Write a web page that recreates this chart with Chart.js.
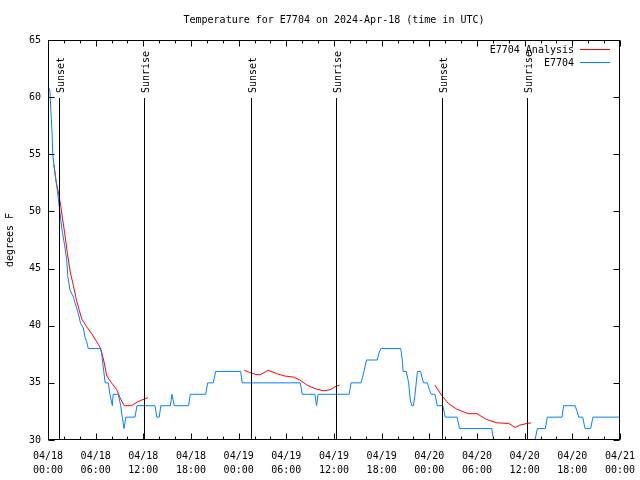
<!DOCTYPE html>
<html>
<head>
<meta charset="utf-8">
<script src="https://cdn.jsdelivr.net/npm/chart.js@4/dist/chart.umd.min.js"></script>
<style>
  body { margin: 0; background: #fff; }
  #grafico { display: block; }
</style>
</head>
<body>
<canvas id="grafico" width="640" height="480"></canvas>
<script>
// hours since 04/18 00:00 UTC, observed temperature (F)
const obsHoras = [0, 0.25, 0.35, 0.5, 0.6, 0.75, 0.95, 1.15, 1.4, 1.76, 2.1, 2.35, 2.5, 2.77, 3.2, 3.4, 3.8, 4.1, 4.45, 4.66, 4.87, 5.07,
  6.63, 6.8, 7.0, 7.2, 7.6, 7.8, 8.1, 8.2, 8.85, 9.15, 9.35, 9.57, 9.8, 10.95, 11.2, 13.47, 13.7, 14.0, 14.2, 15.4, 15.6, 15.9,
  17.7, 17.9, 19.85, 20.1, 20.8, 21.1, 24.25, 24.45, 31.76, 32.0, 33.6, 33.8, 34.0, 37.9, 38.15, 39.4, 39.6, 39.77, 40.1,
  41.45, 41.65, 41.9, 44.4, 44.6, 44.7, 45.1, 45.4, 45.6, 45.8, 46.0, 46.2, 46.5, 46.9, 47.25, 47.75, 48.0, 48.25, 48.7,
  49.0, 49.7, 50.0, 51.5, 51.8, 55.85, 56.1, 56.3, 61.1, 61.3, 61.6, 62.6, 62.85, 64.7, 64.9, 66.35, 66.6, 66.8, 67.3,
  67.6, 68.3, 68.6, 72];
const obsTemps = [61, 60.5, 59, 57, 55, 54, 53, 52, 50.5, 48.4, 47, 45.8, 44.3, 43.1, 42.5, 42, 41.1, 40.2, 39.8, 39, 38.6, 38,
  38, 37.3, 36.1, 35, 35, 34, 33, 34, 34, 33, 32, 31, 32, 32, 33, 33, 32, 32, 33, 33, 34, 33,
  33, 34, 34, 35, 35, 36, 36, 35, 35, 34, 34, 33, 34, 34, 35, 35, 35.5, 36, 37,
  37, 37.6, 38, 38, 37, 36, 36, 35, 33.5, 33, 33, 34, 36, 36, 35, 35, 34.4, 34, 34,
  33, 33, 32, 32, 31, 31, 30, 29, 29, 30, 31, 31, 32, 32, 33, 33, 32.5, 32, 32,
  31, 31, 32, 32];

// analysis curve, null = gap between runs
const anaHoras = [0.75, 1.0, 1.38, 1.6, 1.8, 2.1, 2.43, 2.8, 3.2, 3.6, 4.24, 4.87, 5.5, 6.13, 6.63, 7.0, 7.4, 8.0, 8.65, 9.06,
  9.6, 10.5, 11.2, 11.8, 12.6, 18,
  24.7, 25.4, 26.05, 26.7, 27.7, 28.8, 29.8, 30.9, 31.7, 32.6, 33.6, 34.65, 35.5, 36.25, 36.7, 42,
  48.7, 49.55, 50.4, 51.45, 52.9, 54.0, 55.2, 56.5, 58.0, 58.8, 59.4, 60.3, 60.8];
const anaTemps = [54.1, 52.7, 51.4, 50.5, 49.5, 48.1, 46.4, 44.7, 43.5, 42.2, 40.6, 39.9, 39.3, 38.6, 38, 37, 35.6, 35, 34.4, 33.7,
  33, 33, 33.3, 33.5, 33.7, null,
  36.1, 35.9, 35.75, 35.7, 36.1, 35.8, 35.6, 35.5, 35.25, 34.8, 34.5, 34.3, 34.4, 34.7, 34.8, null,
  34.8, 33.9, 33.2, 32.7, 32.3, 32.3, 31.8, 31.5, 31.45, 31.1, 31.3, 31.45, 31.5];

const porDoSol = [1.4, 25.55, 49.6];
const nascerDoSol = [12.1, 36.25, 60.3];

const xRotulos = [['04/18', '00:00'], ['04/18', '06:00'], ['04/18', '12:00'], ['04/18', '18:00'],
  ['04/19', '00:00'], ['04/19', '06:00'], ['04/19', '12:00'], ['04/19', '18:00'],
  ['04/20', '00:00'], ['04/20', '06:00'], ['04/20', '12:00'], ['04/20', '18:00'], ['04/21', '00:00']];
const yTicks = [30, 35, 40, 45, 50, 55, 60, 65];

const titulo = 'Temperature for E7704 on 2024-Apr-18 (time in UTC)';
const FONTE = "'DejaVu Sans Mono', monospace";
const AZUL = 'rgb(0,128,255)';
const VERMELHO = 'rgb(255,0,0)';

const pontosObs = obsHoras.map((h, i) => ({ x: h, y: obsTemps[i] }));
const pontosAna = anaHoras.map((h, i) => ({ x: h, y: anaTemps[i] }));

const extras = {
  id: 'extras',
  afterDatasetsDraw(chart) {
    const ctx = chart.ctx;
    const a = chart.chartArea;
    const xs = chart.scales.x;
    const ys = chart.scales.y;
    const L = Math.round(a.left) + 0.5, R = Math.round(a.right) - 0.5;
    const T = Math.round(a.top) + 0.5, B = Math.round(a.bottom) - 0.5;
    ctx.save();
    ctx.strokeStyle = '#000';
    ctx.lineWidth = 1;

    // sunset / sunrise markers
    ctx.fillStyle = '#000';
    ctx.font = '10px ' + FONTE;
    const marcas = porDoSol.map(h => [h, 'Sunset']).concat(nascerDoSol.map(h => [h, 'Sunrise']));
    marcas.forEach(([h, txt]) => {
      const x = Math.round(xs.getPixelForValue(h)) + 0.5;
      ctx.beginPath();
      ctx.moveTo(x, 98);
      ctx.lineTo(x, B);
      ctx.stroke();
      ctx.save();
      ctx.translate(x + 2, 93);
      ctx.rotate(-Math.PI / 2);
      ctx.textAlign = 'left';
      ctx.textBaseline = 'middle';
      ctx.fillText(txt, 0, 0);
      ctx.restore();
    });

    // frame
    ctx.strokeRect(L, T, R - L, B - T);

    // inward ticks
    ctx.beginPath();
    yTicks.forEach(v => {
      const y = Math.round(ys.getPixelForValue(v)) + 0.5;
      ctx.moveTo(L, y); ctx.lineTo(L + 6, y);
      ctx.moveTo(R, y); ctx.lineTo(R - 6, y);
    });
    for (let h = 0; h <= 72; h += 2) {
      const x = Math.round(xs.getPixelForValue(h)) + 0.5;
      const len = h % 6 === 0 ? 6 : 3;
      ctx.moveTo(x, B); ctx.lineTo(x, B - len);
      ctx.moveTo(x, T); ctx.lineTo(x, T + len);
    }
    ctx.stroke();

    // legend
    ctx.textAlign = 'right';
    ctx.textBaseline = 'middle';
    ctx.fillText('E7704 Analysis', 574, 50);
    ctx.fillText('E7704', 574, 63);
    ctx.strokeStyle = VERMELHO;
    ctx.beginPath(); ctx.moveTo(580, 49.5); ctx.lineTo(610, 49.5); ctx.stroke();
    ctx.strokeStyle = AZUL;
    ctx.beginPath(); ctx.moveTo(580, 62.5); ctx.lineTo(610, 62.5); ctx.stroke();

    // title
    ctx.textAlign = 'center';
    ctx.fillText(titulo, (a.left + a.right) / 2, 20);
    ctx.restore();
  }
};

new Chart(document.getElementById('grafico').getContext('2d'), {
  type: 'line',
  data: {
    datasets: [
      {
        label: 'E7704',
        data: pontosObs,
        borderColor: AZUL,
        borderWidth: 1,
        pointRadius: 0,
        tension: 0
      },
      {
        label: 'E7704 Analysis',
        data: pontosAna,
        borderColor: VERMELHO,
        borderWidth: 1,
        pointRadius: 0,
        tension: 0,
        spanGaps: false
      }
    ]
  },
  options: {
    responsive: false,
    animation: false,
    layout: { padding: { top: 40, right: 20, left: 0, bottom: 0 } },
    plugins: { legend: { display: false }, tooltip: { enabled: false } },
    scales: {
      x: {
        type: 'linear',
        min: 0,
        max: 72,
        afterFit: s => { s.height = 40; },
        grid: { display: false },
        border: { display: false },
        ticks: {
          stepSize: 6,
          autoSkip: false,
          maxRotation: 0,
          padding: 1,
          color: '#000',
          font: { family: FONTE, size: 10, lineHeight: 1.4 },
          callback: (v, i) => xRotulos[i]
        }
      },
      y: {
        min: 30,
        max: 65,
        afterFit: s => { s.width = 48; },
        grid: { display: false, drawTicks: false },
        border: { display: false },
        title: {
          display: true,
          text: 'degrees F',
          color: '#000',
          padding: { top: 4, bottom: 0 },
          font: { family: FONTE, size: 10 }
        },
        ticks: {
          stepSize: 5,
          padding: 7,
          color: '#000',
          font: { family: FONTE, size: 10 }
        }
      }
    }
  },
  plugins: [extras]
});
</script>
</body>
</html>
